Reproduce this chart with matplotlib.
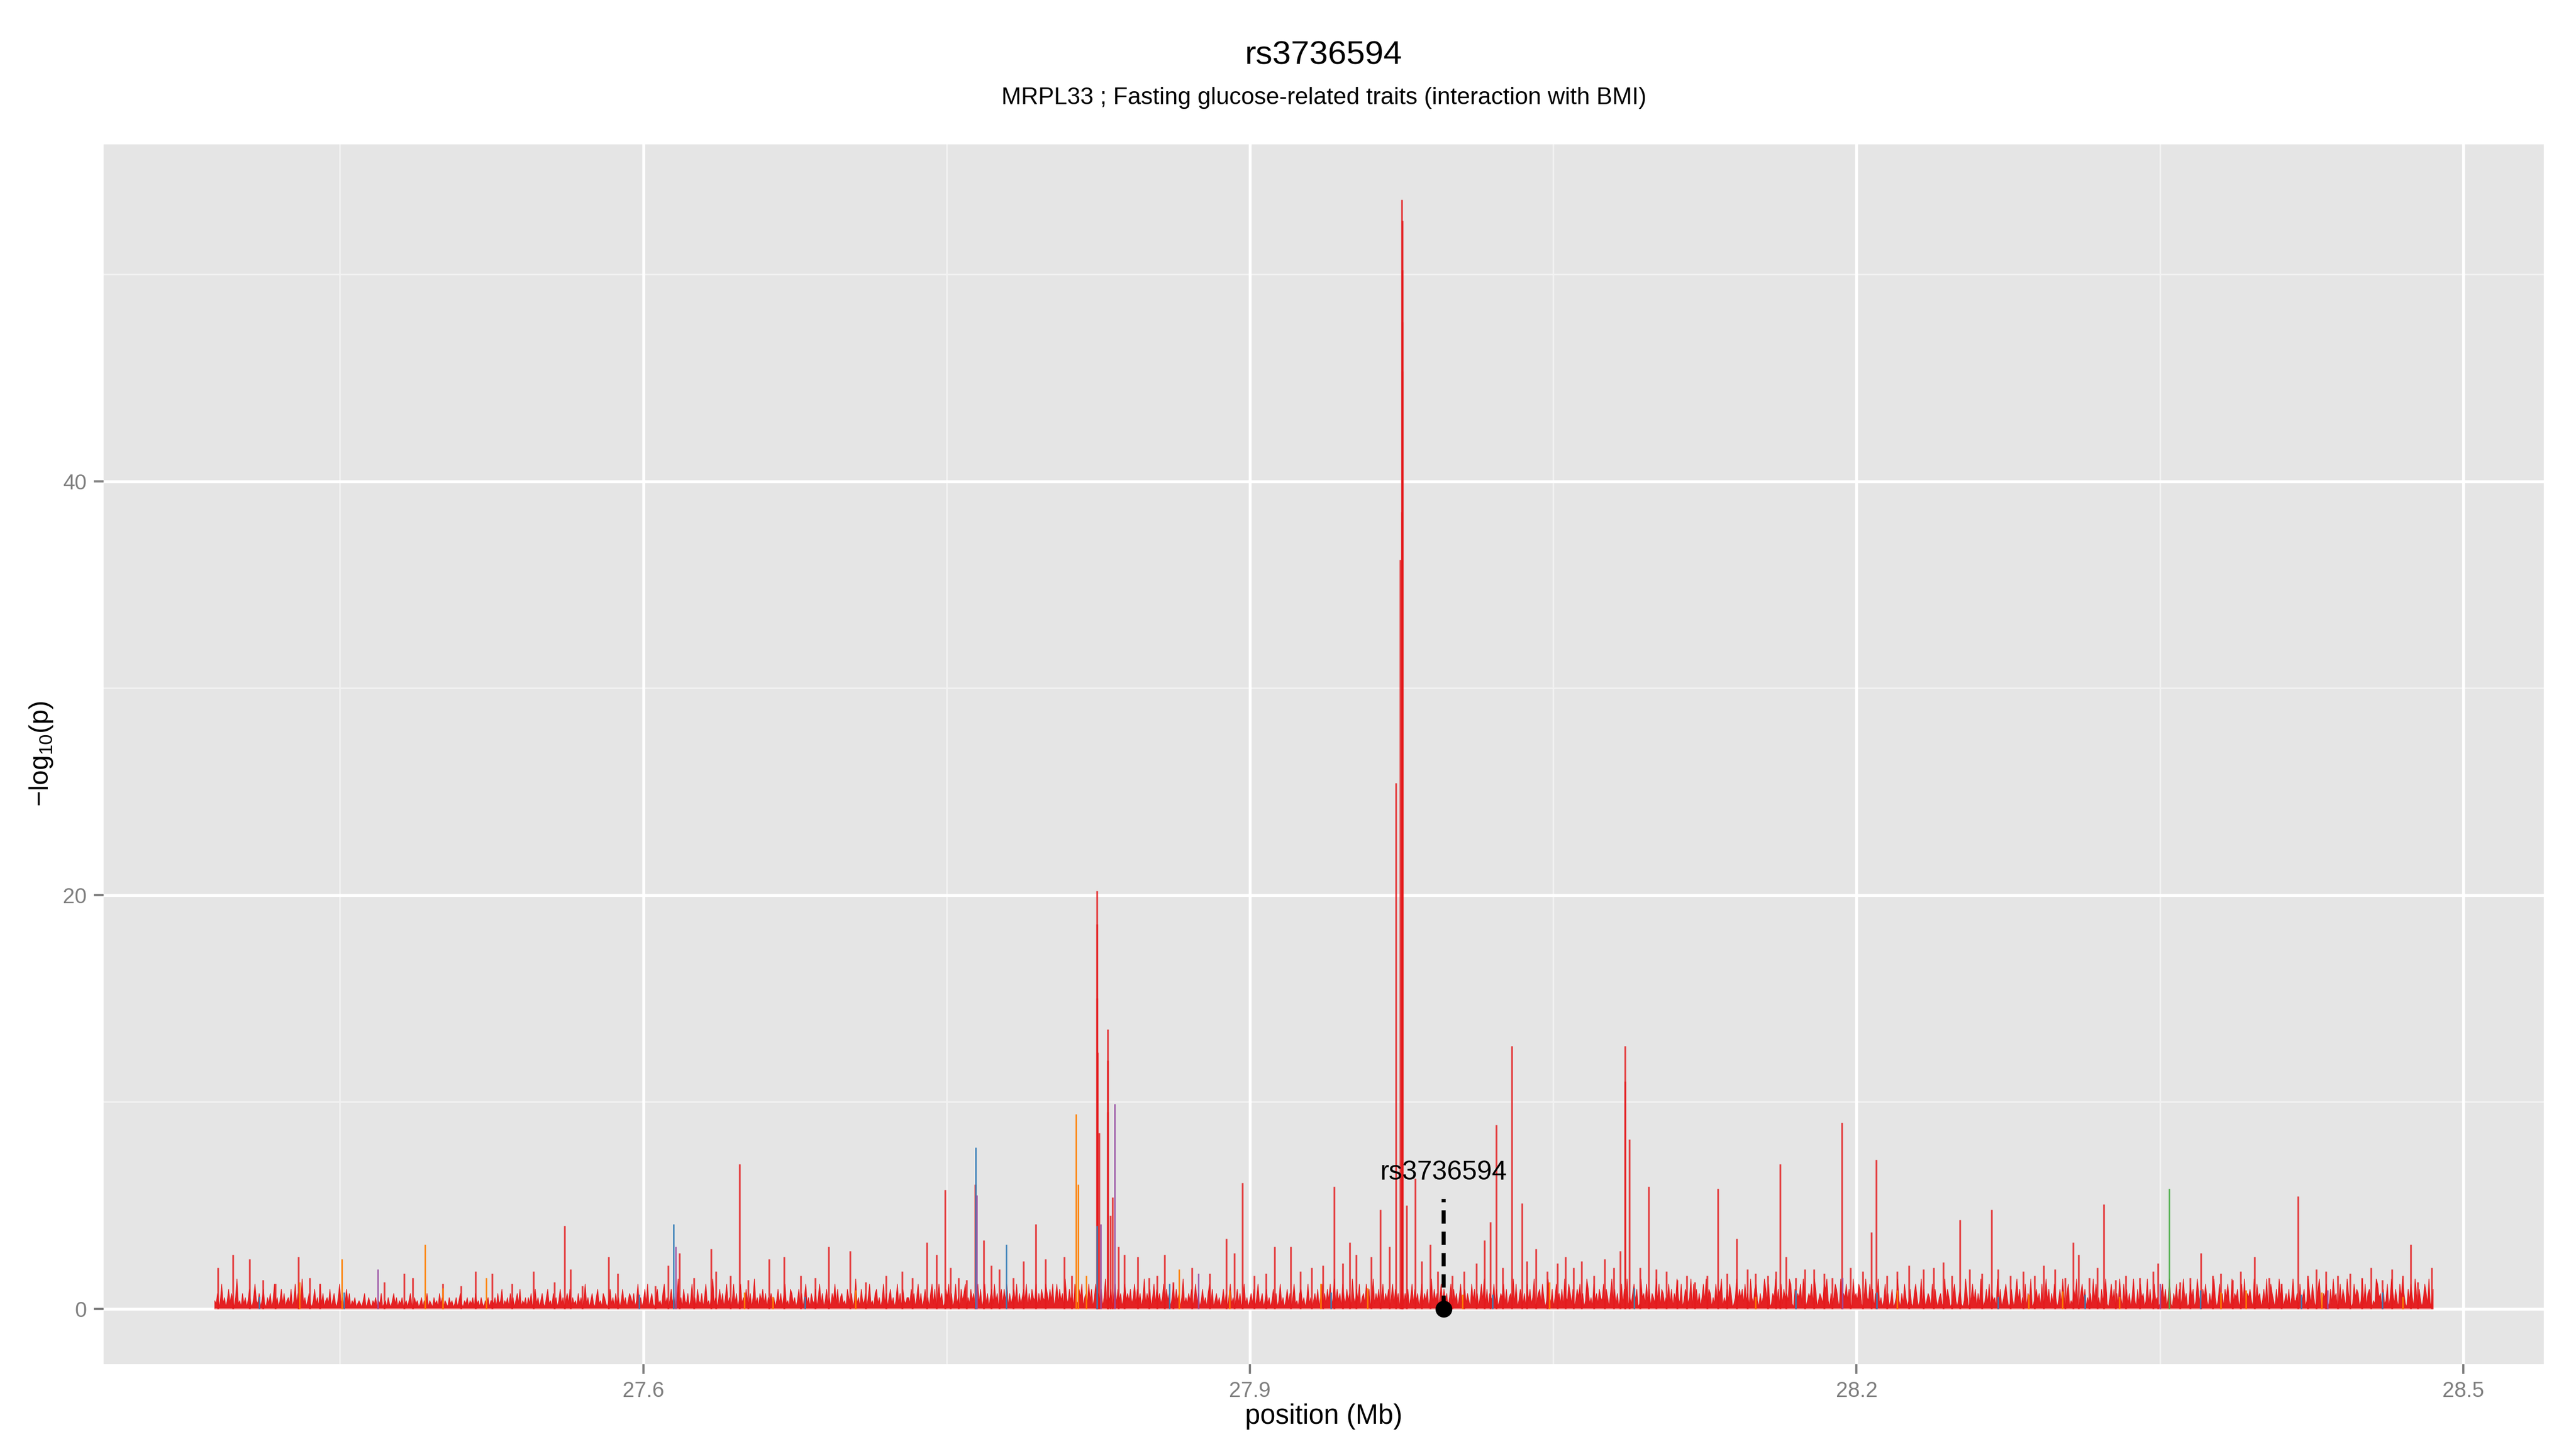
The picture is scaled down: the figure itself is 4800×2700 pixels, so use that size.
import numpy as np
import matplotlib
matplotlib.use("Agg")
import matplotlib.pyplot as plt

plt.rcParams['font.family'] = ['Liberation Sans', 'DejaVu Sans']
plt.rcParams['mathtext.fontset'] = 'custom'
plt.rcParams['mathtext.rm'] = 'Liberation Sans'
plt.rcParams['mathtext.it'] = 'Liberation Sans:italic'

# ---------------- text ----------------
title = "rs3736594"
subtitle = "MRPL33 ; Fasting glucose-related traits (interaction with BMI)"
x_label = "position (Mb)"
y_label = r"$\mathregular{-log_{10}(p)}$"
x_ticks = [27.6, 27.9, 28.2, 28.5]
x_tick_labels = ["27.6", "27.9", "28.2", "28.5"]
x_minor = [27.45, 27.75, 28.05, 28.35]
y_ticks = [0, 20, 40]
y_tick_labels = ["0", "20", "40"]
y_minor = [10, 30, 50]

# ---------------- lead SNP ----------------
lead_snp = "rs3736594"
lead_pos = 27.9957
lead_val = 0.0
lead_stem_top = 5.3
lead_label_y = 6.25

# ---------------- background (dense low-level SNPs, read as height codes) ----------------
region_start, region_end = 27.388, 28.485
bg_levels = [0.1, 0.25, 0.4, 0.55, 0.75, 0.95, 1.2, 1.45, 1.7, 2.0]
bg_codes = [
    "2140261302514203712041302510362140251031402613025140231502614037130241025130614023150241036130251402",
    "1301210240131021302140120310241302130120241031201302140210312041302103120130241021302130412031021302",
    "2130412502130413024150213031402513024103512041302513024150312041302613024103512043102513041302513024",
    "3140261302516024103512046130251402713052140261305214036120471302514036130261402613052140371304251403",
    "2413025140361205413025140361304215036140251304261503412053140271305214036120451302614035130261405213",
    "3152403614025130461503624015361402613052460315240361502614035162403515260413526041352604153260415326",
    "4152603615240731524062153603416250361425037142503615240362425136152403714250361524136152403615240371",
    "3142503614025130461502413025140361302514026130241503612402513025140261302514036120451302613024150361",
    "4152603715240631524073152603416250371425036142503615240371425036152403614250371524036152403615240361",
    "3514206251403627150432615024361503427160253140625137024516302741503624150732641502536140275130624153",
    "2615304725140361527031462501734162504317260541326150427316025413706251403627154031625470315264013725",
    "3516240731562041375260143725061534276105243617502436175024316572041365207143625107342651047326150437",
    "1302614025013720416302510463027150243061520341072530146203510274013625041730251604230715024630152047",
    "2503160427013524061372504163025173046021537014625031407261305247103625041730625140372051634027150362",
    "3014625037104261503724016350274105362041573026140536207143502617043520716340251703642051736024150372",
    "2406135027416302571043620517340261530742016354027160453021763405126037415206374105263074152036417025",
]

# ---------------- notable SNP peaks (red series) ----------------
red_pos = [27.3896, 27.3971, 27.4053, 27.4120, 27.4180, 27.4295, 27.4350, 27.4400, 27.4720, 27.4818,
           27.4861, 27.5010, 27.5100, 27.5171, 27.5254, 27.5350, 27.5458, 27.5560, 27.5610, 27.5640,
           27.5700, 27.5830, 27.5875, 27.6060, 27.6122, 27.6178, 27.6250, 27.6335, 27.6360, 27.6430,
           27.6475, 27.6520, 27.6622, 27.6696, 27.6780, 27.6850, 27.6916, 27.7023, 27.7100, 27.7200,
           27.7280, 27.7330, 27.7402, 27.7450, 27.7493, 27.7520, 27.7560, 27.7600, 27.7640, 27.7684,
           27.7720, 27.7760, 27.7830, 27.7880, 27.7942, 27.7989, 27.8082, 27.8120,
           27.8243, 27.8244, 27.8245, 27.8246, 27.8255, 27.8296, 27.8297, 27.8298, 27.8310, 27.8321,
           27.8350, 27.8380, 27.8446, 27.8500, 27.8540, 27.8579, 27.8620, 27.8714, 27.8800, 27.8882,
           27.8924, 27.8964, 27.9020, 27.9081, 27.9123, 27.9203, 27.9250, 27.9304, 27.9360, 27.9418,
           27.9460, 27.9493, 27.9525, 27.9600, 27.9644, 27.9690, 27.9721, 27.9742,
           27.9752, 27.9753, 27.9754, 27.9755, 27.9753, 27.9752, 27.9775, 27.9817, 27.9850, 27.9891,
           27.9930, 28.0000, 28.0060, 28.0120, 28.0160, 28.0189, 28.0218, 28.0250, 28.0295, 28.0345,
           28.0370, 28.0414, 28.0470, 28.0520, 28.0560, 28.0600, 28.0640, 28.0700, 28.0754, 28.0800,
           28.0830, 28.0855, 28.0856, 28.0876, 28.0930, 28.0972, 28.1010, 28.1060, 28.1112, 28.1160,
           28.1200, 28.1260, 28.1315, 28.1360, 28.1408, 28.1460, 28.1500, 28.1560, 28.1600, 28.1623,
           28.1650, 28.1700, 28.1745, 28.1790, 28.1840, 28.1880, 28.1928, 28.1970, 28.2030, 28.2072,
           28.2096, 28.2150, 28.2200, 28.2260, 28.2330, 28.2380, 28.2430, 28.2470, 28.2510, 28.2560,
           28.2620, 28.2667, 28.2700, 28.2760, 28.2823, 28.2880, 28.2924, 28.2980, 28.3030, 28.3070,
           28.3097, 28.3150, 28.3190, 28.3222, 28.3280, 28.3330, 28.3400, 28.3466, 28.3490, 28.3600,
           28.3650, 28.3703, 28.3760, 28.3800, 28.3860, 28.3900, 28.3968, 28.4040, 28.4100, 28.4183,
           28.4230, 28.4274, 28.4320, 28.4380, 28.4440, 28.4500, 28.4545, 28.4600, 28.4648, 28.4700,
           28.4741, 28.4776, 28.4845]
red_val = [2.0, 2.6, 2.4, 1.4, 1.2, 2.5, 1.5, 1.2, 1.3, 1.7,
           1.5, 1.2, 1.1, 1.8, 1.7, 1.2, 1.8, 1.3, 4.0, 1.9,
           1.1, 2.5, 1.7, 1.1, 2.1, 2.7, 1.5, 2.9, 1.8, 1.6,
           7.0, 1.4, 2.4, 2.5, 1.6, 1.5, 3.0, 2.8, 1.3, 1.6,
           1.8, 1.5, 3.2, 2.6, 5.75, 2.0, 1.5, 1.4, 6.0, 3.3,
           2.1, 1.9, 1.5, 2.3, 4.1, 2.4, 2.5, 1.6,
           18.6, 20.2, 15.0, 12.4, 8.5, 12.0, 13.5, 9.5, 4.5, 5.4,
           3.0, 2.6, 2.5, 1.5, 1.6, 2.6, 1.3, 2.0, 1.7, 3.4,
           2.7, 6.1, 1.6, 1.7, 3.0, 3.0, 1.8, 2.0, 2.1, 5.9,
           2.2, 3.2, 2.6, 2.5, 4.8, 3.0, 25.4, 36.2,
           53.6, 52.6, 50.2, 47.7, 45.3, 38.5, 5.0, 6.3, 2.3, 3.1,
           1.8, 1.6, 1.8, 2.2, 3.3, 4.2, 8.9, 2.0, 12.7, 5.1,
           2.3, 2.9, 1.8, 2.2, 2.5, 2.0, 2.3, 1.6, 2.4, 2.0,
           2.8, 12.7, 11.0, 8.2, 2.0, 5.9, 1.9, 1.8, 1.4, 1.6,
           1.3, 1.6, 5.8, 1.7, 3.4, 1.9, 1.7, 1.6, 1.8, 7.0,
           2.5, 1.5, 1.9, 1.9, 1.7, 1.5, 9.0, 2.0, 1.8, 3.7,
           7.2, 1.6, 1.8, 2.1, 1.9, 2.0, 2.25, 1.6, 4.3, 1.9,
           1.7, 4.8, 1.9, 1.6, 1.8, 1.6, 2.1, 1.9, 1.5, 3.2,
           2.6, 1.5, 2.0, 5.05, 1.4, 1.6, 1.5, 1.8, 2.2, 1.3,
           1.5, 2.7, 1.6, 1.7, 1.4, 1.8, 2.5, 1.5, 1.2, 5.45,
           1.6, 1.9, 1.8, 1.6, 1.7, 1.5, 2.0, 1.4, 1.9, 1.6,
           3.1, 1.3, 2.0]

# ---------------- other coloured series ----------------
orange_pos = [27.4300, 27.4510, 27.4922, 27.5010, 27.5224, 27.6500, 27.6640, 27.7050, 27.8141, 27.8150,
              27.8190, 27.8651, 27.8900, 27.9350, 27.9580, 28.0050, 28.0480, 28.0900, 28.1500, 28.2200,
              28.2850, 28.3017, 28.3300, 28.3800, 28.3926, 28.4300, 28.4700]
orange_val = [1.3, 2.4, 3.1, 1.0, 1.5, 0.8, 0.6, 0.9, 9.4, 6.0,
              1.6, 1.9, 0.9, 1.2, 1.0, 0.7, 1.3, 0.9, 0.6, 0.9,
              0.7, 0.85, 0.6, 0.8, 0.9, 0.8, 0.6]
blue_pos = [27.4100, 27.4520, 27.5980, 27.6149, 27.6800, 27.7644, 27.7796, 27.8244, 27.8603, 27.9400,
            28.0200, 28.0900, 28.1700, 28.2100, 28.2700, 28.3130, 28.3700, 28.4200, 28.4600]
blue_val = [0.6, 0.8, 0.7, 4.1, 0.6, 7.8, 3.1, 4.0, 1.2, 0.8,
            0.7, 1.0, 0.9, 0.8, 0.6, 0.7, 0.9, 0.7, 0.8]
purple_pos = [27.4688, 27.6160, 27.7650, 27.8263, 27.8332, 27.8746, 28.1930, 28.3500, 28.4330]
purple_val = [1.9, 3.0, 5.5, 4.1, 9.9, 1.7, 1.5, 1.2, 0.9]
green_pos = [28.3546]
green_val = [5.8]

RED, ORANGE, BLUE, PURPLE, GREEN = "#E41A1C", "#FF7F00", "#377EB8", "#984EA3", "#4DAF4A"

# ---------------- figure ----------------
fig = plt.figure(figsize=(16, 9), dpi=300)
ax = fig.add_axes([0.04021, 0.05852, 0.94729, 0.84185])
ax.set_facecolor("#E5E5E5")
for s in ax.spines.values():
    s.set_visible(False)

bg_val = np.array([bg_levels[int(c)] for c in "".join(bg_codes)])
bg_pos = np.linspace(region_start, region_end, len(bg_val))

all_pos = np.concatenate([bg_pos, red_pos, orange_pos, blue_pos, purple_pos, green_pos])
all_val = np.concatenate([bg_val, red_val, orange_val, blue_val, purple_val, green_val])
xmin, xmax = all_pos.min(), all_pos.max()
ymax = all_val.max()
xr = xmax - xmin
ax.set_xlim(xmin - 0.05 * xr, xmax + 0.05 * xr)
ax.set_ylim(-0.05 * ymax, ymax * 1.05)

# grid
for v in x_minor:
    ax.axvline(v, color="#F2F2F2", lw=0.7, zorder=0)
for v in y_minor:
    ax.axhline(v, color="#F2F2F2", lw=0.7, zorder=0)
for v in x_ticks:
    ax.axvline(v, color="white", lw=1.3, zorder=0.5)
for v in y_ticks:
    ax.axhline(v, color="white", lw=1.3, zorder=0.5)

# data
ax.fill_between(bg_pos, 0, bg_val, color=RED, lw=0.3, edgecolor=RED, alpha=0.97, zorder=2)
ax.hlines(0, xmin, xmax, color="#F09090", lw=0.5, zorder=2.1)
ax.vlines(red_pos, 0, red_val, colors=RED, lw=0.8, alpha=0.8, zorder=3)
ax.vlines(orange_pos, 0, orange_val, colors=ORANGE, lw=0.7, alpha=0.9, zorder=3.2)
ax.vlines(blue_pos, 0, blue_val, colors=BLUE, lw=0.7, alpha=0.9, zorder=3.3)
ax.vlines(purple_pos, 0, purple_val, colors=PURPLE, lw=0.7, alpha=0.85, zorder=3.4)
ax.vlines(green_pos, 0, green_val, colors=GREEN, lw=0.7, alpha=0.9, zorder=3.5)

# lead snp annotation
ax.plot([lead_pos, lead_pos], [lead_val, lead_stem_top], color="black", lw=1.8,
        linestyle=(0, (3.3, 2.0)), zorder=5)
ax.plot([lead_pos], [lead_val], "o", color="black", markersize=6.5, zorder=6)
ax.text(lead_pos, lead_label_y, lead_snp, ha="center", va="baseline", fontsize=12,
        color="black", zorder=6)

# axes
ax.set_xticks(x_ticks)
ax.set_xticklabels(x_tick_labels)
ax.set_yticks(y_ticks)
ax.set_yticklabels(y_tick_labels)
ax.tick_params(axis="both", which="major", direction="out", length=4.3, width=1.0,
               color="#7F7F7F", labelcolor="#7F7F7F", labelsize=9.6, pad=3.2)

pcx = 0.04021 + 0.94729 / 2
fig.text(pcx, 1 - 120 / 2700, title, ha="center", va="baseline", fontsize=14.9)
fig.text(pcx, 1 - 194 / 2700, subtitle, ha="center", va="baseline", fontsize=10.6)
fig.text(pcx, 1 - 2640 / 2700, x_label, ha="center", va="center", fontsize=12.2)
fig.text(77 / 4800, 1 - 1405 / 2700, y_label, ha="center", va="center", rotation=90, fontsize=12)

fig.savefig("out.png", dpi=300)
